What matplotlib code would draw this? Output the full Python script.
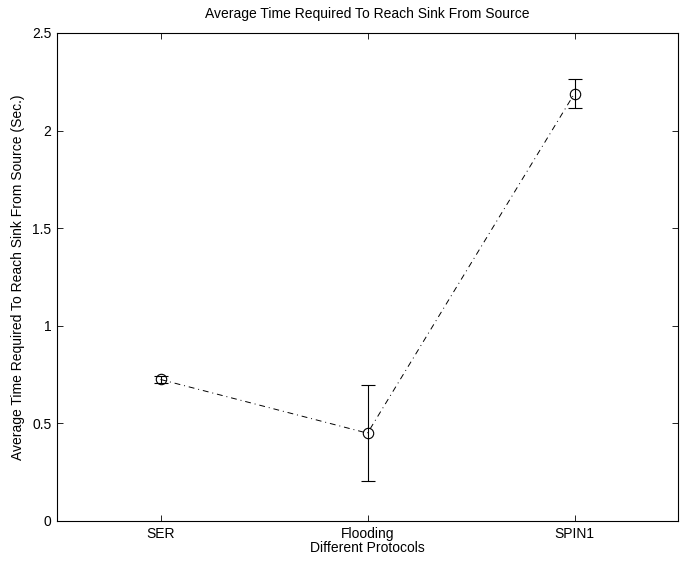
import matplotlib
matplotlib.use("Agg")
import matplotlib.pyplot as plt

protocols = ["SER", "Flooding", "SPIN1"]
avg_time = [0.725, 0.45, 2.19]
err = [0.02, 0.245, 0.075]
yticks = [0, 0.5, 1, 1.5, 2, 2.5]
ytick_labels = ["0", "0.5", "1", "1.5", "2", "2.5"]

plt.rcParams['font.family'] = ['Liberation Sans', 'DejaVu Sans']
fig = plt.figure(figsize=(6.84, 5.63), dpi=100)
ax = fig.add_axes([57/684, 1 - 521/563, (678-57)/684, (521-33)/563])

x = list(range(1, len(protocols) + 1))
ax.errorbar(x, avg_time, yerr=err, fmt='o', mfc='none', mec='black', ms=7.5, mew=0.8,
            ecolor='black', elinewidth=0.8, capsize=5, capthick=0.8, zorder=3)
ax.plot(x, avg_time, linestyle='-.', color='black', lw=0.7, dashes=(6, 4, 1, 4))

fs = 10
ax.set_xlim(0.5, 3.5)
ax.set_ylim(0, 2.5)
ax.set_xticks(x)
ax.set_xticklabels(protocols, fontsize=fs)
ax.set_yticks(yticks)
ax.set_yticklabels(ytick_labels, fontsize=fs)
ax.tick_params(direction='in', top=True, right=True, length=4, width=0.6, pad=4)
for s in ax.spines.values():
    s.set_linewidth(0.8)
ax.set_title("Average Time Required To Reach Sink From Source", fontsize=fs, pad=11)
ax.set_xlabel("Different Protocols", fontsize=fs, labelpad=0)
ax.set_ylabel("Average Time Required To Reach Sink From Source (Sec.)", fontsize=fs, labelpad=5)

fig.savefig("out.png", dpi=100)
